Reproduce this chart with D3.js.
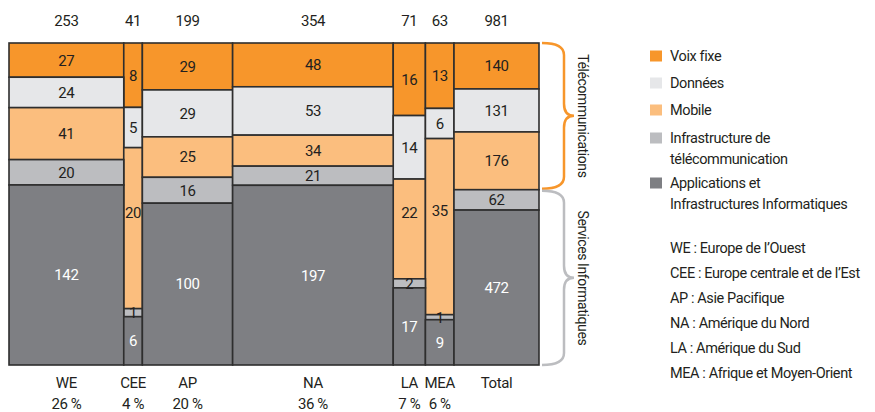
<!DOCTYPE html>
<html>
<head>
<meta charset="utf-8">
<script src="https://cdn.jsdelivr.net/npm/d3@7"></script>
<style>
  body { margin: 0; background: #fff; }
  text { font-family: "Roboto", "Liberation Sans", sans-serif; fill: #231f20; letter-spacing: -0.4px; }
</style>
</head>
<body>
<div id="chart"></div>
<script>
// data
var regions = ["WE", "CEE", "AP", "NA", "LA", "MEA", "Total"];
var totals = [253, 41, 199, 354, 71, 63, 981];
var shares = ["26 %", "4 %", "20 %", "36 %", "7 %", "6 %", ""];
var voixFixe = [27, 8, 29, 48, 16, 13, 140];
var donnees = [24, 5, 29, 53, 14, 6, 131];
var mobile = [41, 20, 25, 34, 22, 35, 176];
var infraTelecom = [20, 1, 16, 21, 2, 1, 62];
var applications = [142, 6, 100, 197, 17, 9, 472];

var seriesNames = ["Voix fixe", "Données", "Mobile", "Infrastructure de\ntélécommunication", "Applications et\nInfrastructures Informatiques"];
var regionNames = ["WE : Europe de l’Ouest", "CEE : Europe centrale et de l’Est", "AP : Asie Pacifique",
                   "NA : Amérique du Nord", "LA : Amérique du Sud", "MEA : Afrique et Moyen-Orient"];

var colors = ["#f7962b", "#e6e7e9", "#fbbe7e", "#bcbdc0", "#7e7f83"];
var keys = ["voix", "donnees", "mobile", "infra", "apps"];

var width = 875, height = 412;
var margin = { top: 43, bottom: 365, left: 9, right: 539 };
var regionsRight = 454;

var svg = d3.select("#chart").append("svg")
    .attr("width", width)
    .attr("height", height);

// rows for stacking
var rows = regions.map(function(r, i) {
    return { region: r, total: totals[i], share: shares[i],
             voix: voixFixe[i], donnees: donnees[i], mobile: mobile[i],
             infra: infraTelecom[i], apps: applications[i] };
});

var stacked = d3.stack().keys(keys).offset(d3.stackOffsetExpand)(rows);

// column x positions: regions proportional to their total, then the Total column
var regionSum = d3.sum(totals.slice(0, 6));
var x = d3.scaleLinear().domain([0, regionSum]).range([margin.left, regionsRight]);
var cum = 0;
rows.forEach(function(d, i) {
    if (i < 6) {
        d.x0 = x(cum); cum += d.total; d.x1 = x(cum);
    } else {
        d.x0 = regionsRight; d.x1 = margin.right;
    }
});

var y = d3.scaleLinear().domain([0, 1]).range([margin.top, margin.bottom]);

// segments
var cells = [];
stacked.forEach(function(s, si) {
    s.forEach(function(p, ci) {
        cells.push({ si: si, row: rows[ci], y0: p[0], y1: p[1], value: p.data[keys[si]] });
    });
});

svg.append("g").selectAll("rect")
    .data(cells)
    .enter()
    .append("rect")
    .attr("x", d => d.row.x0)
    .attr("y", d => y(d.y0))
    .attr("width", d => d.row.x1 - d.row.x0)
    .attr("height", d => y(d.y1) - y(d.y0))
    .style("fill", d => colors[d.si])
    .style("stroke", "#2e2e2e")
    .style("stroke-width", 1.6);

// value labels
svg.append("g").selectAll("text")
    .data(cells)
    .enter()
    .append("text")
    .attr("x", d => (d.row.x0 + d.row.x1) / 2)
    .attr("y", function(d) {
        var mid = (y(d.y0) + y(d.y1)) / 2;
        // tall narrow mobile cells have their label set higher
        if (d.si == 2 && d.row.x1 - d.row.x0 < 40) mid -= 16;
        return mid;
    })
    .attr("dy", "0.36em")
    .attr("text-anchor", "middle")
    .attr("font-size", "15px")
    .style("fill", d => d.si == 4 ? "#ffffff" : "#231f20")
    .text(d => d.value);

// totals on top
svg.append("g").selectAll("text")
    .data(rows)
    .enter()
    .append("text")
    .attr("x", d => (d.x0 + d.x1) / 2)
    .attr("y", 21)
    .attr("dy", "0.36em")
    .attr("text-anchor", "middle")
    .attr("font-size", "15px")
    .text(d => d.total);

// region names + shares
svg.append("g").selectAll("text")
    .data(rows)
    .enter()
    .append("text")
    .attr("x", d => (d.x0 + d.x1) / 2)
    .attr("y", 383)
    .attr("dy", "0.36em")
    .attr("text-anchor", "middle")
    .attr("font-size", "15px")
    .text(d => d.region);

svg.append("g").selectAll("text")
    .data(rows)
    .enter()
    .append("text")
    .attr("x", d => (d.x0 + d.x1) / 2)
    .attr("y", 404)
    .attr("dy", "0.36em")
    .attr("text-anchor", "middle")
    .attr("font-size", "15px")
    .text(d => d.share);

// braces next to the Total column
var totalRow = rows[6];
var telecomShare = (totalRow.voix + totalRow.donnees + totalRow.mobile) / totalRow.total;
var braces = [
    { y0: margin.top, y1: y(telecomShare) - 1, color: "#f7962b", label: "Télécommunications" },
    { y0: y(telecomShare) + 1, y1: margin.bottom, color: "#bcbdc0", label: "Services Informatiques" }
];

function bracePath(x0, y0, y1) {
    var p = d3.path();
    var xm = x0 + 22, xp = x0 + 32, r = 12, mid = (y0 + y1) / 2;
    p.moveTo(x0, y0);
    p.quadraticCurveTo(xm, y0, xm, y0 + r);
    p.lineTo(xm, mid - r);
    p.quadraticCurveTo(xm, mid, xp, mid);
    p.quadraticCurveTo(xm, mid, xm, mid + r);
    p.lineTo(xm, y1 - r);
    p.quadraticCurveTo(xm, y1, x0, y1);
    return p.toString();
}

svg.append("g").selectAll("path")
    .data(braces)
    .enter()
    .append("path")
    .attr("d", d => bracePath(margin.right + 3, d.y0, d.y1))
    .style("fill", "none")
    .style("stroke", d => d.color)
    .style("stroke-width", 2.5);

svg.append("g").selectAll("text")
    .data(braces)
    .enter()
    .append("text")
    .attr("transform", d => "translate(" + 583 + "," + ((d.y0 + d.y1) / 2) + ") rotate(90)")
    .attr("dy", "0.36em")
    .attr("text-anchor", "middle")
    .attr("font-size", "14px")
    .text(d => d.label);

// legend
var legendY = [56, 83, 110, 138, 183];
var legend = svg.append("g").selectAll("g")
    .data(seriesNames)
    .enter()
    .append("g")
    .attr("transform", (d, i) => "translate(650," + legendY[i] + ")");

legend.append("rect")
    .attr("x", 0)
    .attr("y", -5.5)
    .attr("width", 12)
    .attr("height", 11)
    .style("fill", (d, i) => colors[i]);

legend.append("text")
    .attr("x", 20)
    .attr("font-size", "14.5px")
    .selectAll("tspan")
    .data(d => d.split("\n"))
    .enter()
    .append("tspan")
    .attr("x", 20)
    .attr("y", (d, i) => i * 21)
    .attr("dy", "0.36em")
    .text(d => d);

svg.append("g").selectAll("text")
    .data(regionNames)
    .enter()
    .append("text")
    .attr("x", 670)
    .attr("y", (d, i) => 248 + i * 25)
    .attr("dy", "0.36em")
    .attr("font-size", "14.5px")
    .text(d => d);
</script>
</body>
</html>
